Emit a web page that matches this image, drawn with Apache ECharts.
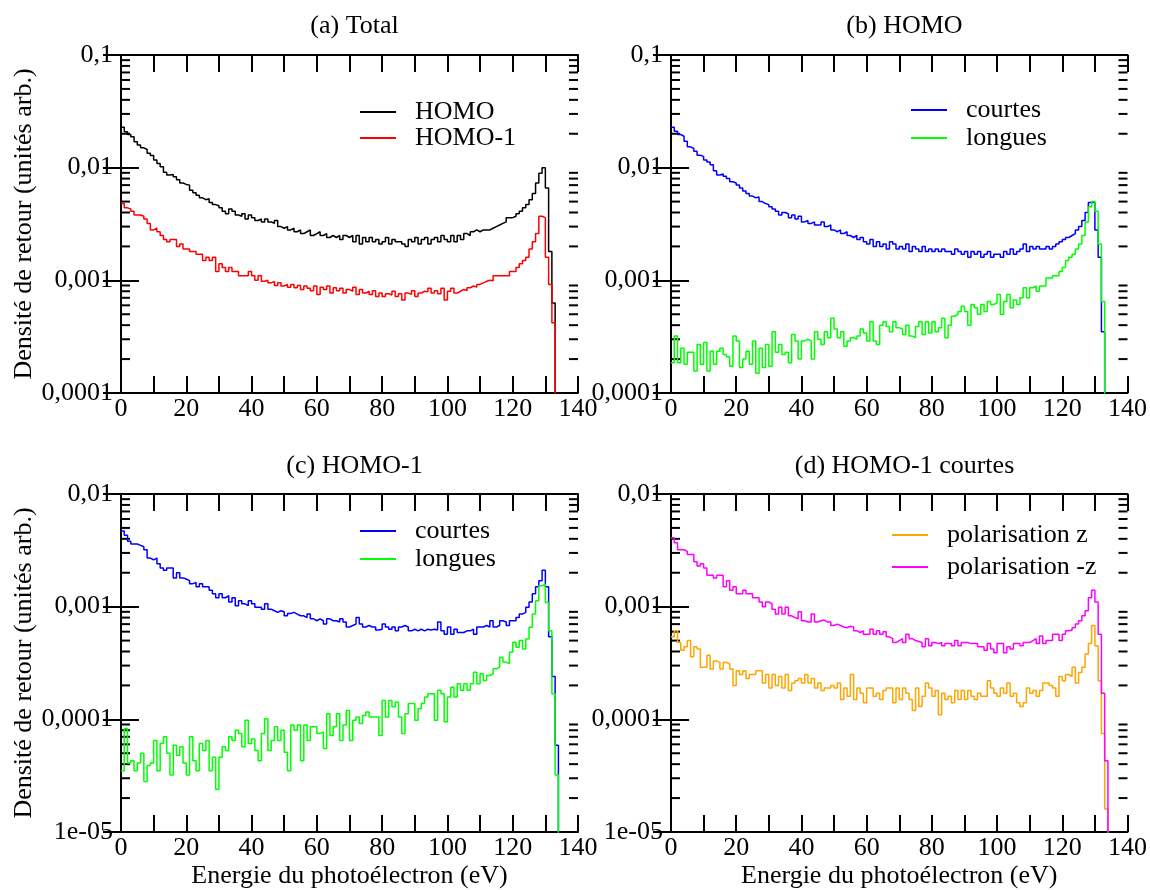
<!DOCTYPE html>
<html><head><meta charset="utf-8">
<script src="https://cdn.jsdelivr.net/npm/echarts@6/dist/echarts.min.js"></script>
<style>html,body{margin:0;padding:0;background:#fff}#c{width:1150px;height:890px}</style>
</head><body><div id="c"></div>
<script>
const BIN_WIDTH = 1; // eV
const xTickLabels = [0,20,40,60,80,100,120,140];
const yLabelsTop = ['0,0001','0,001','0,01','0,1'];
const yLabelsBottom = ['1e-05','0,0001','0,001','0,01'];
const titles = ['(a) Total','(b) HOMO','(c) HOMO-1','(d) HOMO-1 courtes'];
const xName = 'Energie du photoélectron (eV)';
const yName = 'Densité de retour (unités arb.)';

const aHOMO = [0.0228,0.0208,0.0197,0.0188,0.0170,0.0159,0.0150,0.0145,0.0134,0.0128,
 0.0117,0.0109,0.0102,0.0091,0.0086,0.0087,0.0083,0.0078,0.0073,0.0071,
 0.0070,0.0063,0.0060,0.0057,0.0054,0.0052,0.0053,0.0049,0.0047,0.0046,
 0.0044,0.0041,0.0039,0.0043,0.0041,0.0038,0.0037,0.0039,0.0035,0.0038,
 0.0036,0.0034,0.0035,0.0033,0.0035,0.0033,0.0032,0.0034,0.0030,0.0029,
 0.0030,0.0028,0.0029,0.0027,0.0028,0.0026,0.0027,0.0028,0.0025,0.0026,
 0.0027,0.0025,0.0026,0.0024,0.0025,0.0024,0.0025,0.0023,0.0025,0.0024,
 0.0025,0.0022,0.0025,0.0021,0.0024,0.0022,0.0024,0.0022,0.0023,0.0021,
 0.0022,0.0024,0.0021,0.0023,0.0022,0.0022,0.0021,0.0020,0.0023,0.0022,
 0.0024,0.0021,0.0023,0.0024,0.0021,0.0023,0.0024,0.0022,0.0025,0.0023,
 0.0022,0.0025,0.0022,0.0025,0.0023,0.0026,0.0025,0.0027,0.0028,0.0027,
 0.0028,0.0028,0.0028,0.0029,0.0030,0.0031,0.0032,0.0033,0.0036,0.0036,
 0.0037,0.0039,0.0041,0.0044,0.0047,0.0052,0.0059,0.0073,0.0089,0.0100,
 0.0066,0.0018,0.00063];
const aHOMO1 = [0.0048,0.0044,0.0043,0.0041,0.0038,0.0038,0.0037,0.0035,0.0032,0.0028,
 0.0029,0.0027,0.0025,0.0023,0.0022,0.0023,0.0023,0.0020,0.0021,0.0019,
 0.0019,0.0018,0.0018,0.0017,0.0017,0.0015,0.0016,0.0015,0.0016,0.0012,
 0.0014,0.0013,0.0012,0.0013,0.0012,0.0012,0.0011,0.0011,0.0011,0.0012,
 0.0011,0.0010,0.0011,0.00098,0.0010,0.00095,0.00098,0.00090,0.00095,0.00089,
 0.00092,0.00087,0.00092,0.00086,0.00090,0.00083,0.00089,0.00085,0.00081,0.00089,
 0.00075,0.00087,0.00083,0.00089,0.00077,0.00086,0.00081,0.00085,0.00077,0.00083,
 0.00080,0.00087,0.00075,0.00083,0.00077,0.00080,0.00075,0.00081,0.00072,0.00077,
 0.00072,0.00076,0.00074,0.00080,0.00072,0.00076,0.00067,0.00077,0.00075,0.00081,
 0.00072,0.00077,0.00080,0.00079,0.00085,0.00077,0.00081,0.00076,0.00085,0.00067,
 0.00080,0.00085,0.00077,0.00080,0.00083,0.00081,0.00086,0.00089,0.00087,0.00092,
 0.00095,0.00098,0.0010,0.00099,0.0011,0.0011,0.0011,0.0011,0.0011,0.0012,
 0.0012,0.0013,0.0014,0.0015,0.0016,0.0019,0.0022,0.0026,0.0037,0.0036,
 0.0016,0.00092,0.00042];
const bCourtes = [0.0228,0.0210,0.0197,0.0190,0.0172,0.0153,0.0148,0.0140,0.0129,0.0126,
 0.0117,0.0112,0.0106,0.0094,0.0086,0.0088,0.0084,0.0080,0.0075,0.0073,
 0.0070,0.0066,0.0062,0.0059,0.0056,0.0054,0.0055,0.0050,0.0048,0.0047,
 0.0045,0.0043,0.0041,0.0038,0.0040,0.0039,0.0036,0.0038,0.0035,0.0037,
 0.0033,0.0034,0.0032,0.0033,0.0031,0.0031,0.0033,0.0030,0.0031,0.0028,
 0.0027,0.0028,0.0026,0.0027,0.0025,0.0024,0.0025,0.0023,0.0024,0.0022,
 0.0021,0.0023,0.0020,0.0022,0.0020,0.0021,0.0019,0.0022,0.0021,0.0019,
 0.0020,0.0019,0.0021,0.0018,0.0020,0.0019,0.0018,0.0020,0.0018,0.0019,
 0.0018,0.0019,0.0018,0.0019,0.0018,0.0018,0.0017,0.0019,0.0018,0.0017,
 0.0018,0.0016,0.0018,0.0017,0.0018,0.0016,0.0017,0.0018,0.0016,0.0017,
 0.0017,0.0016,0.0018,0.0017,0.0019,0.0017,0.0018,0.0019,0.0021,0.0018,
 0.0020,0.0019,0.0020,0.0019,0.0019,0.0020,0.0019,0.0020,0.0021,0.0022,
 0.0023,0.0024,0.0025,0.0026,0.0028,0.0030,0.0034,0.0040,0.0049,0.0049,
 0.0028,0.0016,0.00035];
const bLongues = [0.000186,0.00032,0.000186,0.00025,0.00018,0.00023,0.00023,0.000157,0.00027,0.00018,
 0.00028,0.000157,0.000235,0.00018,0.000235,0.00025,0.00022,0.00021,0.000173,0.00032,
 0.00029,0.000168,0.00020,0.000235,0.00018,0.00029,0.00015,0.00025,0.000168,0.00027,
 0.000173,0.00035,0.00023,0.00027,0.00022,0.00023,0.000186,0.00033,0.00029,0.00020,
 0.00029,0.00030,0.00029,0.00020,0.00035,0.00030,0.00027,0.00035,0.00031,0.00046,
 0.00037,0.00031,0.00035,0.00026,0.00029,0.00031,0.00030,0.00032,0.00037,0.00034,
 0.00029,0.00043,0.00029,0.00027,0.00040,0.00043,0.00039,0.00035,0.00043,0.00038,
 0.00037,0.00033,0.00040,0.00032,0.00031,0.00039,0.00043,0.00033,0.00043,0.00034,
 0.00043,0.00035,0.00038,0.00046,0.00031,0.00040,0.00048,0.00050,0.00053,0.00059,
 0.00053,0.00040,0.00061,0.00057,0.00050,0.00061,0.00053,0.00065,0.00061,0.00063,
 0.00075,0.00050,0.00065,0.00075,0.00057,0.00067,0.00061,0.00070,0.00086,0.00070,
 0.00086,0.00089,0.00080,0.00089,0.00089,0.00105,0.00105,0.0011,0.0011,0.0012,
 0.0013,0.0015,0.0016,0.0017,0.0019,0.0021,0.0025,0.0033,0.0045,0.0050,
 0.0041,0.0021,0.00065];
const cCourtes = [0.0047,0.0043,0.0038,0.0036,0.0036,0.0035,0.0034,0.0032,0.0027,0.0026,
 0.0027,0.0024,0.0022,0.0021,0.0022,0.0022,0.0018,0.0020,0.0018,0.00176,
 0.0017,0.0016,0.00164,0.0015,0.0016,0.0015,0.0015,0.0014,0.0013,0.0012,
 0.0013,0.0012,0.00125,0.0011,0.0012,0.00102,0.00113,0.00106,0.00102,0.00113,
 0.00106,0.00099,0.00099,0.00095,0.00106,0.00095,0.00092,0.00089,0.00092,0.00090,
 0.00083,0.00087,0.00089,0.00086,0.00083,0.00083,0.00080,0.00086,0.00078,0.00075,
 0.00078,0.00075,0.00070,0.00078,0.00075,0.00075,0.00073,0.00078,0.00073,0.00066,
 0.00068,0.00070,0.00080,0.00070,0.00066,0.00068,0.00066,0.00066,0.00062,0.00063,
 0.00070,0.00066,0.00063,0.00066,0.00061,0.00066,0.00068,0.00066,0.00061,0.00063,
 0.00061,0.00063,0.00061,0.00063,0.00062,0.00063,0.00062,0.00073,0.00061,0.00057,
 0.00066,0.00057,0.00063,0.00059,0.00059,0.00061,0.00061,0.00063,0.00057,0.00066,
 0.00066,0.00068,0.00066,0.00075,0.00066,0.00068,0.00075,0.00073,0.00068,0.00075,
 0.00075,0.00080,0.00086,0.00089,0.00099,0.0011,0.0013,0.0015,0.0017,0.0021,
 0.0015,0.00054,0.00024,0.000059];
const cLongues = [3.5e-5,8.3e-5,4.1e-5,4.3e-5,3.5e-5,4.1e-5,5.0e-5,2.8e-5,3.9e-5,4.1e-5,
 6.5e-5,3.5e-5,6.1e-5,7.0e-5,5.0e-5,3.2e-5,5.9e-5,4.8e-5,5.7e-5,4.1e-5,
 3.2e-5,7.0e-5,4.3e-5,3.5e-5,6.1e-5,5.3e-5,6.5e-5,3.5e-5,4.6e-5,2.4e-5,
 4.6e-5,5.7e-5,5.3e-5,7.0e-5,6.5e-5,8.0e-5,7.5e-5,5.7e-5,9.8e-5,6.1e-5,
 6.7e-5,5.3e-5,4.3e-5,7.5e-5,1.01e-4,5.3e-5,6.5e-5,8.6e-5,6.5e-5,8.0e-5,
 5.1e-5,3.5e-5,8.9e-5,8.0e-5,8.9e-5,4.3e-5,8.9e-5,6.5e-5,8.6e-5,8.6e-5,
 7.5e-5,7.7e-5,5.5e-5,1.12e-4,7.2e-5,8.6e-5,1.12e-4,6.5e-5,8.9e-5,1.2e-4,
 6.5e-5,9.8e-5,1.05e-4,9.2e-5,1.08e-4,1.16e-4,1.05e-4,1.05e-4,1.05e-4,7.2e-5,
 1.47e-4,1.05e-4,1.47e-4,1.29e-4,1.42e-4,1.05e-4,7.5e-5,1.12e-4,1.38e-4,1.38e-4,
 9.8e-5,1.24e-4,1.38e-4,1.58e-4,1.69e-4,1.69e-4,9.8e-5,1.81e-4,1.69e-4,9.5e-5,
 1.58e-4,1.93e-4,1.58e-4,2.07e-4,1.81e-4,2.07e-4,1.81e-4,2.07e-4,2.62e-4,2.07e-4,
 2.54e-4,2.21e-4,2.45e-4,2.54e-4,2.81e-4,2.91e-4,3.56e-4,3.22e-4,3.11e-4,3.94e-4,
 4.83e-4,4.36e-4,5.0e-4,4.22e-4,5.17e-4,6.56e-4,8.6e-4,1.13e-3,1.53e-3,1.59e-3,
 1.09e-3,6.1e-4,1.69e-4,3.2e-5];
const dPolZ = [0.00054,0.00061,0.00048,0.00041,0.00044,0.00050,0.00036,0.00044,0.00042,0.00029,
 0.00029,0.00037,0.00028,0.00033,0.00032,0.00028,0.00032,0.00031,0.00028,0.00020,
 0.00027,0.00025,0.00027,0.00023,0.00025,0.00025,0.00027,0.00027,0.00021,0.00025,
 0.00019,0.00025,0.00020,0.00024,0.00019,0.00025,0.00018,0.00021,0.00022,0.00023,
 0.00021,0.00025,0.00021,0.00023,0.00019,0.00021,0.00018,0.00019,0.00019,0.00020,
 0.00019,0.00021,0.00015,0.00019,0.00016,0.00025,0.00015,0.00019,0.00017,0.00014,
 0.00019,0.00019,0.00016,0.00017,0.00015,0.00018,0.00019,0.00019,0.00014,0.00019,
 0.00015,0.00019,0.00017,0.00015,0.00012,0.00019,0.00013,0.00016,0.00021,0.00019,
 0.00016,0.00018,0.00011,0.00017,0.00015,0.00016,0.00014,0.00018,0.00015,0.00018,
 0.00015,0.00018,0.00016,0.00015,0.00017,0.00016,0.00016,0.00022,0.00019,0.00017,
 0.00016,0.00019,0.00017,0.00021,0.00016,0.00017,0.00014,0.00013,0.00014,0.00019,
 0.00017,0.00018,0.00016,0.00018,0.00021,0.00021,0.00020,0.00019,0.00016,0.00024,
 0.00022,0.00025,0.00024,0.00029,0.00021,0.00026,0.00029,0.00038,0.00047,0.00068,
 0.00045,0.00022,7.5e-5,1.6e-5];
const dPolMinusZ = [0.0041,0.0037,0.0032,0.0032,0.0031,0.0029,0.0029,0.0025,0.0023,0.0024,
 0.0022,0.0019,0.0019,0.0018,0.0019,0.0019,0.0015,0.0017,0.0014,0.0015,
 0.0013,0.0013,0.0014,0.0013,0.0013,0.0012,0.0012,0.0011,0.0010,0.0011,
 0.00106,0.00095,0.00086,0.00099,0.00086,0.00099,0.00083,0.00080,0.00078,0.00090,
 0.00075,0.00073,0.00073,0.00086,0.00073,0.00075,0.00076,0.00073,0.00073,0.00068,
 0.00070,0.00068,0.00066,0.00065,0.00067,0.00066,0.00061,0.00059,0.00061,0.00057,
 0.00057,0.00063,0.00057,0.00061,0.00057,0.00060,0.00054,0.00052,0.00048,0.00050,
 0.00052,0.00048,0.00057,0.00052,0.00050,0.00049,0.00048,0.00044,0.00052,0.00045,
 0.00048,0.00047,0.00048,0.00045,0.00047,0.00047,0.00045,0.00050,0.00045,0.00048,
 0.00048,0.00047,0.00047,0.00047,0.00044,0.00044,0.00041,0.00047,0.00042,0.00039,
 0.00047,0.00047,0.00039,0.00044,0.00042,0.00047,0.00047,0.00045,0.00048,0.00048,
 0.00050,0.00052,0.00047,0.00055,0.00047,0.00050,0.00050,0.00057,0.00057,0.00050,
 0.00057,0.00061,0.00062,0.00065,0.00070,0.00075,0.00083,0.00092,0.0012,0.0014,
 0.0011,0.00057,0.00017,4.3e-5];

const FONT = "'Liberation Serif','DejaVu Serif',serif";
const FS = 26;
const grids = [
  {left:121, top:55, width:457, height:338},
  {left:671, top:55, width:457, height:338},
  {left:121, top:494, width:457, height:339},
  {left:671, top:494, width:457, height:339}
];
const yRanges = [[1e-4,0.1],[1e-4,0.1],[1e-5,0.01],[1e-5,0.01]];
const yLabels = [yLabelsTop,yLabelsTop,yLabelsBottom,yLabelsBottom];
const panelSeries = [
  [{name:'HOMO', data:aHOMO, color:'#000000'},{name:'HOMO-1', data:aHOMO1, color:'#ff0000'}],
  [{name:'courtes', data:bCourtes, color:'#0000ff'},{name:'longues', data:bLongues, color:'#00ff00'}],
  [{name:'courtes', data:cCourtes, color:'#0000ff'},{name:'longues', data:cLongues, color:'#00ff00'}],
  [{name:'polarisation z', data:dPolZ, color:'#ffa500'},{name:'polarisation -z', data:dPolMinusZ, color:'#ff00ff'}]
];
const legendPos = [
  {left:360, top:97, itemGap:0},
  {left:911, top:95, itemGap:2},
  {left:360, top:516, itemGap:2},
  {left:892, top:520, itemGap:6}
];

function steps(vals){
  const d = vals.map((v,i)=>[i*BIN_WIDTH, v]);
  d.push([vals.length*BIN_WIDTH, 1e-9]);
  return d;
}
function minorValues(range){
  const out = [];
  const lo = Math.round(Math.log10(range[0])), hi = Math.round(Math.log10(range[1]));
  for (let k = lo; k < hi; k++) for (let m = 2; m <= 9; m++) out.push([0, m*Math.pow(10,k)]);
  return out;
}

const axisLine = {lineStyle:{color:'#000', width:2}};
const xAxes = [], yAxes = [], series = [], legends = [], titleArr = [];
grids.forEach((g, p) => {
  const showXName = p >= 2;
  xAxes.push({gridIndex:p, type:'value', min:0, max:140, interval:10, position:'bottom',
    axisLine, splitLine:{show:false},
    axisTick:{inside:true, length:17, lineStyle:{color:'#000', width:2}},
    axisLabel:{color:'#000', fontFamily:FONT, fontSize:FS, margin:3,
      formatter:v => xTickLabels.indexOf(v) >= 0 ? String(v) : ''},
    name: showXName ? xName : '', nameLocation:'middle', nameGap:31,
    nameTextStyle:{color:'#000', fontFamily:FONT, fontSize:FS}});
  xAxes.push({gridIndex:p, type:'value', min:0, max:140, interval:10, position:'top',
    axisLine, splitLine:{show:false},
    axisTick:{inside:true, length:17, lineStyle:{color:'#000', width:2}},
    axisLabel:{show:false}});
  const labs = yLabels[p];
  const lo = Math.round(Math.log10(yRanges[p][0]));
  yAxes.push({gridIndex:p, type:'log', logBase:10, min:yRanges[p][0], max:yRanges[p][1], position:'left',
    axisLine, splitLine:{show:false},
    axisTick:{inside:true, length:18, lineStyle:{color:'#000', width:2}},
    axisLabel:{color:'#000', fontFamily:FONT, fontSize:FS, margin:8,
      formatter:v => labs[Math.round(Math.log10(v)) - lo] || ''},
    name: (p % 2 === 0) ? yName : '', nameLocation:'middle', nameGap:83,
    nameTextStyle:{color:'#000', fontFamily:FONT, fontSize:FS}});
  yAxes.push({gridIndex:p, type:'log', logBase:10, min:yRanges[p][0], max:yRanges[p][1], position:'right',
    axisLine, splitLine:{show:false},
    axisTick:{inside:true, length:18, lineStyle:{color:'#000', width:2}},
    axisLabel:{show:false}});
  panelSeries[p].forEach(s => {
    series.push({type:'line', name:s.name, xAxisIndex:2*p, yAxisIndex:2*p, data:steps(s.data),
      step:'end', symbol:'none', clip:true, color:s.color,
      lineStyle:{color:s.color, width:1.5}, emphasis:{disabled:true}});
  });
  series.push({type:'custom', xAxisIndex:2*p, yAxisIndex:2*p, data:minorValues(yRanges[p]),
    silent:true, clip:false, z:3,
    renderItem:(params, api) => {
      const v = api.value(1);
      const pl = api.coord([0, v]), pr = api.coord([140, v]);
      return {type:'group', children:[
        {type:'line', shape:{x1:pl[0], y1:pl[1], x2:pl[0]+9, y2:pl[1]}, style:{stroke:'#000', lineWidth:2}},
        {type:'line', shape:{x1:pr[0], y1:pr[1], x2:pr[0]-9, y2:pr[1]}, style:{stroke:'#000', lineWidth:2}}
      ]};
    }});
  legends.push({orient:'vertical', left:legendPos[p].left, top:legendPos[p].top + 2, itemGap:legendPos[p].itemGap,
    padding:0, icon:'rect', itemWidth:36, itemHeight:2, data:panelSeries[p].map(s=>s.name), selectedMode:false,
    textStyle:{color:'#000', fontFamily:FONT, fontSize:FS, lineHeight:26, padding:[0,0,0,14]}});
  titleArr.push({text:titles[p], left:g.left + g.width/2, top:(p<2?8:448), textAlign:'center',
    textStyle:{color:'#000', fontFamily:FONT, fontSize:FS, fontWeight:'normal'}});
});

const chart = echarts.init(document.getElementById('c'), null, {renderer:'canvas'});
chart.setOption({animation:false, backgroundColor:'#fff', title:titleArr, legend:legends,
  grid:grids, xAxis:xAxes, yAxis:yAxes, series});
</script></body></html>
